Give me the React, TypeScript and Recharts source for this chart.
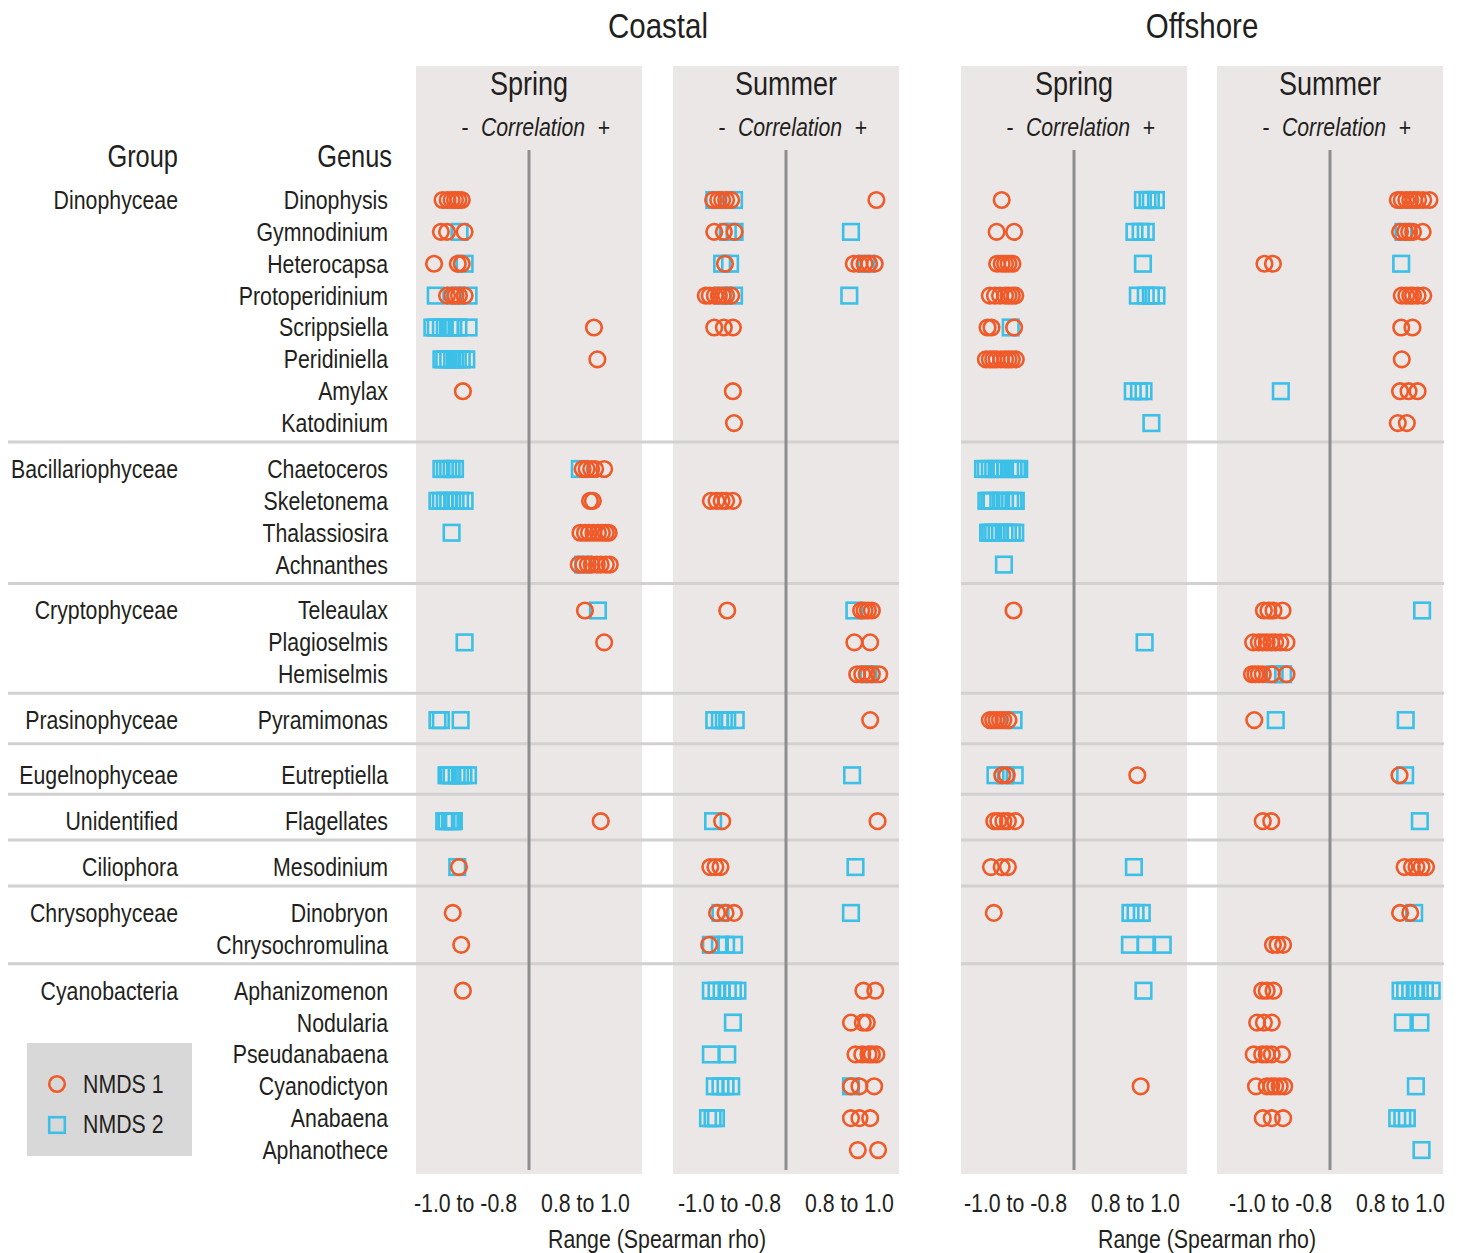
import React from "react";
import { ScatterChart, Scatter, XAxis, YAxis, ReferenceLine } from "recharts";

// ---------- categories ----------
const GROUPS = [
  "Dinophyceae",
  "Bacillariophyceae",
  "Cryptophyceae",
  "Prasinophyceae",
  "Eugelnophyceae",
  "Unidentified",
  "Ciliophora",
  "Chrysophyceae",
  "Cyanobacteria",
];
const GENERA_BY_GROUP = [
  ["Dinophysis", "Gymnodinium", "Heterocapsa", "Protoperidinium", "Scrippsiella", "Peridiniella", "Amylax", "Katodinium"],
  ["Chaetoceros", "Skeletonema", "Thalassiosira", "Achnanthes"],
  ["Teleaulax", "Plagioselmis", "Hemiselmis"],
  ["Pyramimonas"],
  ["Eutreptiella"],
  ["Flagellates"],
  ["Mesodinium"],
  ["Dinobryon", "Chrysochromulina"],
  ["Aphanizomenon", "Nodularia", "Pseudanabaena", "Cyanodictyon", "Anabaena", "Aphanothece"],
];
const REGIONS = ["Coastal", "Offshore"];
const SEASONS = ["Spring", "Summer"];
const TICK_LABELS = ["-1.0 to -0.8", "0.8 to 1.0"];
const SERIES_NAMES = ["NMDS 1", "NMDS 2"];
const AXIS_TITLE = "Range (Spearman rho)";

type Row = [string, number[]];

// ---------- series values (Spearman rho) ----------
const coastalSpringNMDS1: Row[] = [
  ["Dinophysis", [-0.953, -0.944, -0.937, -0.931, -0.925, -0.919]],
  ["Gymnodinium", [-0.956, -0.945, -0.914]],
  ["Heterocapsa", [-0.968, -0.926, -0.919]],
  ["Protoperidinium", [-0.945, -0.936, -0.93, -0.924, -0.914]],
  ["Scrippsiella", [0.915]],
  ["Peridiniella", [0.921]],
  ["Amylax", [-0.917]],
  ["Chaetoceros", [0.895, 0.902, 0.91, 0.917, 0.933]],
  ["Skeletonema", [0.908, 0.913]],
  ["Thalassiosira", [0.891, 0.899, 0.906, 0.914, 0.922, 0.929, 0.936, 0.941]],
  ["Achnanthes", [0.888, 0.896, 0.904, 0.911, 0.92, 0.927, 0.936, 0.943]],
  ["Teleaulax", [0.899]],
  ["Plagioselmis", [0.933]],
  ["Flagellates", [0.927]],
  ["Mesodinium", [-0.924]],
  ["Dinobryon", [-0.935]],
  ["Chrysochromulina", [-0.92]],
  ["Aphanizomenon", [-0.917]],
];
const coastalSpringNMDS2: Row[] = [
  ["Gymnodinium", [-0.923]],
  ["Heterocapsa", [-0.914]],
  ["Protoperidinium", [-0.965, -0.931, -0.907]],
  ["Scrippsiella", [-0.971, -0.965, -0.956, -0.949, -0.94, -0.934, -0.925, -0.907]],
  ["Peridiniella", [-0.955, -0.95, -0.943, -0.936, -0.931, -0.926, -0.919, -0.911]],
  ["Chaetoceros", [-0.955, -0.949, -0.943, -0.937, -0.931, 0.89]],
  ["Skeletonema", [-0.962, -0.956, -0.949, -0.943, -0.936, -0.93, -0.922, -0.914]],
  ["Thalassiosira", [-0.937]],
  ["Achnanthes", [0.896]],
  ["Teleaulax", [0.922]],
  ["Plagioselmis", [-0.914]],
  ["Pyramimonas", [-0.962, -0.956, -0.921]],
  ["Eutreptiella", [-0.946, -0.942, -0.937, -0.928, -0.922, -0.916, -0.908]],
  ["Flagellates", [-0.95, -0.946, -0.94, -0.936, -0.933]],
  ["Mesodinium", [-0.927]],
];
const coastalSummerNMDS1: Row[] = [
  ["Dinophysis", [-0.929, -0.92, -0.913, -0.906, -0.897, 0.96]],
  ["Gymnodinium", [-0.927, -0.91, -0.891]],
  ["Heterocapsa", [-0.908, 0.92, 0.93, 0.939, 0.947, 0.957]],
  ["Protoperidinium", [-0.942, -0.935, -0.926, -0.919, -0.912, -0.906, -0.897]],
  ["Scrippsiella", [-0.927, -0.91, -0.894]],
  ["Amylax", [-0.894]],
  ["Katodinium", [-0.892]],
  ["Skeletonema", [-0.933, -0.923, -0.914, -0.906, -0.894]],
  ["Teleaulax", [-0.904, 0.933, 0.939, 0.945, 0.952]],
  ["Plagioselmis", [0.921, 0.949]],
  ["Hemiselmis", [0.926, 0.935, 0.943, 0.952, 0.965]],
  ["Pyramimonas", [0.949]],
  ["Flagellates", [-0.913, 0.962]],
  ["Mesodinium", [-0.934, -0.925, -0.916]],
  ["Dinobryon", [-0.922, -0.907, -0.892]],
  ["Chrysochromulina", [-0.936]],
  ["Aphanizomenon", [0.937, 0.958]],
  ["Nodularia", [0.915, 0.936, 0.943]],
  ["Pseudanabaena", [0.923, 0.935, 0.946, 0.952, 0.96]],
  ["Cyanodictyon", [0.915, 0.93, 0.956]],
  ["Anabaena", [0.915, 0.93, 0.949]],
  ["Aphanothece", [0.927, 0.963]],
];
const coastalSummerNMDS2: Row[] = [
  ["Dinophysis", [-0.927, -0.892]],
  ["Gymnodinium", [-0.903, -0.891, 0.915]],
  ["Heterocapsa", [-0.913, -0.899, 0.942]],
  ["Protoperidinium", [-0.912, -0.892, 0.912]],
  ["Teleaulax", [0.921]],
  ["Hemiselmis", [0.946]],
  ["Pyramimonas", [-0.927, -0.917, -0.91, -0.904, -0.889]],
  ["Eutreptiella", [0.917]],
  ["Flagellates", [-0.929]],
  ["Mesodinium", [0.923]],
  ["Dinobryon", [-0.916, 0.915]],
  ["Chrysochromulina", [-0.933, -0.917, -0.906, -0.892]],
  ["Aphanizomenon", [-0.933, -0.923, -0.914, -0.903, -0.894, -0.886]],
  ["Nodularia", [-0.894]],
  ["Pseudanabaena", [-0.933, -0.904]],
  ["Cyanodictyon", [-0.926, -0.916, -0.907, -0.897, 0.915]],
  ["Anabaena", [-0.938, -0.93, -0.924]],
];
const offshoreSpringNMDS1: Row[] = [
  ["Dinophysis", [-0.928]],
  ["Gymnodinium", [-0.937, -0.906]],
  ["Heterocapsa", [-0.936, -0.928, -0.922, -0.916, -0.909]],
  ["Protoperidinium", [-0.949, -0.94, -0.931, -0.922, -0.916, -0.91, -0.904]],
  ["Scrippsiella", [-0.953, -0.946, -0.906]],
  ["Peridiniella", [-0.956, -0.949, -0.943, -0.937, -0.929, -0.922, -0.916, -0.91, -0.903]],
  ["Teleaulax", [-0.907]],
  ["Pyramimonas", [-0.949, -0.943, -0.937, -0.931, -0.925, -0.916]],
  ["Eutreptiella", [-0.927, -0.919, 0.912]],
  ["Flagellates", [-0.941, -0.934, -0.925, -0.917, -0.904]],
  ["Mesodinium", [-0.947, -0.928, -0.917]],
  ["Dinobryon", [-0.942]],
  ["Cyanodictyon", [0.918]],
];
const offshoreSpringNMDS2: Row[] = [
  ["Dinophysis", [0.922, 0.93, 0.936, 0.945]],
  ["Gymnodinium", [0.907, 0.918, 0.927]],
  ["Heterocapsa", [0.922]],
  ["Protoperidinium", [0.913, 0.927, 0.936, 0.946]],
  ["Scrippsiella", [-0.912]],
  ["Amylax", [0.904, 0.915, 0.923]],
  ["Katodinium", [0.937]],
  ["Chaetoceros", [-0.961, -0.956, -0.949, -0.943, -0.937, -0.931, -0.922, -0.913, -0.907, -0.901, -0.897]],
  ["Skeletonema", [-0.955, -0.95, -0.946, -0.934, -0.929, -0.922, -0.913, -0.907, -0.903]],
  ["Thalassiosira", [-0.952, -0.948, -0.943, -0.937, -0.931, -0.923, -0.917, -0.91, -0.904]],
  ["Achnanthes", [-0.924]],
  ["Plagioselmis", [0.925]],
  ["Pyramimonas", [-0.907]],
  ["Eutreptiella", [-0.939, -0.921, -0.905]],
  ["Mesodinium", [0.906]],
  ["Dinobryon", [0.9, 0.909, 0.92]],
  ["Chrysochromulina", [0.899, 0.927, 0.957]],
  ["Aphanizomenon", [0.923]],
];
const offshoreSummerNMDS1: Row[] = [
  ["Dinophysis", [0.92, 0.927, 0.935, 0.942, 0.949, 0.956, 0.965, 0.976]],
  ["Gymnodinium", [0.924, 0.933, 0.94, 0.947, 0.964]],
  ["Heterocapsa", [-0.916, -0.901]],
  ["Protoperidinium", [0.927, 0.935, 0.942, 0.947, 0.955, 0.965]],
  ["Scrippsiella", [0.926, 0.946]],
  ["Peridiniella", [0.927]],
  ["Amylax", [0.924, 0.939, 0.955]],
  ["Katodinium", [0.92, 0.936]],
  ["Teleaulax", [-0.917, -0.909, -0.9, -0.884]],
  ["Plagioselmis", [-0.936, -0.926, -0.919, -0.912, -0.904, -0.897, -0.888, -0.877]],
  ["Hemiselmis", [-0.938, -0.932, -0.926, -0.919, -0.903, -0.877]],
  ["Pyramimonas", [-0.934]],
  ["Eutreptiella", [0.923]],
  ["Flagellates", [-0.919, -0.904]],
  ["Mesodinium", [0.932, 0.945, 0.953, 0.962, 0.97]],
  ["Dinobryon", [0.924, 0.942]],
  ["Chrysochromulina", [-0.901, -0.893, -0.883]],
  ["Aphanizomenon", [-0.92, -0.912, -0.9]],
  ["Nodularia", [-0.929, -0.917, -0.903]],
  ["Pseudanabaena", [-0.935, -0.92, -0.912, -0.903, -0.885]],
  ["Cyanodictyon", [-0.931, -0.912, -0.904, -0.897, -0.889, -0.881]],
  ["Anabaena", [-0.919, -0.903, -0.883]],
];
const offshoreSummerNMDS2: Row[] = [
  ["Gymnodinium", [0.93]],
  ["Heterocapsa", [0.926]],
  ["Amylax", [-0.887]],
  ["Teleaulax", [0.963]],
  ["Hemiselmis", [-0.898, -0.883]],
  ["Pyramimonas", [-0.896, 0.934]],
  ["Eutreptiella", [0.933]],
  ["Flagellates", [0.959]],
  ["Dinobryon", [0.949]],
  ["Aphanizomenon", [0.925, 0.933, 0.942, 0.95, 0.959, 0.968, 0.98]],
  ["Nodularia", [0.929, 0.96]],
  ["Cyanodictyon", [0.952]],
  ["Anabaena", [0.919, 0.928, 0.936]],
  ["Aphanothece", [0.962]],
];

// ---------- layout / style ----------
const FONT = "'Liberation Sans',Arial,Helvetica,sans-serif";
const SX = 0.82; // horizontal condensing to mimic a narrow face
const TEXT = "#231f20";
const ORANGE = "#F05A28";
const BLUE = "#3CC0E8";
const PANEL_BG = "#ebe7e6";
const SEP = "#d2d0d0";
const DIVIDER = "#8e8e8e";
const CHART_TOP = 150;
const PLOT_H = 1020;
const AXIS_H = 50;
const PANEL_W = 226;
const SIDE = 14; // spare room either side of each plot for tick labels
const GROUP_GAP = [0, 1.44, 1.44, 1.44, 1.73, 1.44, 1.44, 1.44, 1.44];
const Y0 = -1.569;
const Y1 = 30.436;

const PANELS = [
  { region: 0, season: 0, left: 416, tickDx: -5, n1: coastalSpringNMDS1, n2: coastalSpringNMDS2 },
  { region: 0, season: 1, left: 673, tickDx: 2, n1: coastalSummerNMDS1, n2: coastalSummerNMDS2 },
  { region: 1, season: 0, left: 961, tickDx: 0, n1: offshoreSpringNMDS1, n2: offshoreSpringNMDS2 },
  { region: 1, season: 1, left: 1217, tickDx: 9, n1: offshoreSummerNMDS1, n2: offshoreSummerNMDS2 },
];

// slot (row position) for each genus
const SLOT: Record<string, number> = {};
const GROUP_FIRST_SLOT: number[] = [];
const GROUP_LAST_SLOT: number[] = [];
(() => {
  let s = 0;
  GENERA_BY_GROUP.forEach((gens, gi) => {
    if (gi > 0) s += GROUP_GAP[gi] - 1;
    gens.forEach((g, i) => {
      if (gi > 0 || i > 0) s += 1;
      SLOT[g] = s;
      if (i === 0) GROUP_FIRST_SLOT[gi] = s;
      GROUP_LAST_SLOT[gi] = s;
    });
  });
})();

const yPix = (slot: number) => CHART_TOP + ((slot - Y0) / (Y1 - Y0)) * PLOT_H;
// broken axis: -1.0..-0.8 -> 0..0.2 ; 0.8..1.0 -> 0.2..0.4
const toPlot = (rho: number) => (rho < 0 ? rho + 1 : rho - 0.6);

const build = (rows: Row[]) =>
  rows.flatMap(([genus, vals]) => vals.map((v) => ({ genus, rho: v, x: toPlot(v), y: SLOT[genus] })));

const T = ({
  x,
  y,
  size = 26,
  anchor = "start",
  italic = false,
  children,
}: {
  x: number;
  y: number;
  size?: number;
  anchor?: "start" | "middle" | "end";
  italic?: boolean;
  children: React.ReactNode;
}) => (
  <text
    transform={`translate(${x},${y}) scale(${SX},1)`}
    textAnchor={anchor}
    fontFamily={FONT}
    fontSize={size}
    fontStyle={italic ? "italic" : "normal"}
    fill={TEXT}
  >
    {children}
  </text>
);

const CircleShape = (p: any) => (
  <circle cx={p.cx} cy={p.cy} r={7.8} fill="none" stroke={ORANGE} strokeWidth={2.6} />
);
const SquareShape = (p: any) => (
  <rect x={p.cx - 7.8} y={p.cy - 7.8} width={15.6} height={15.6} fill="none" stroke={BLUE} strokeWidth={2.6} />
);

const makeTick = (dx: number) => (p: any) => {
  const idx = p.index ?? 0;
  return (
    <T x={p.x + dx + (idx === 1 ? 5 : -2)} y={p.y + 34} anchor="middle">
      {TICK_LABELS[idx]}
    </T>
  );
};

const Panel = ({ panel }: { panel: (typeof PANELS)[number] }) => {
  const d1 = build(panel.n1);
  const d2 = build(panel.n2);
  const TickC = makeTick(panel.tickDx);
  return (
    <div style={{ position: "absolute", left: panel.left - SIDE, top: CHART_TOP }}>
      <ScatterChart
        width={PANEL_W + 2 * SIDE}
        height={PLOT_H + AXIS_H}
        margin={{ top: 0, right: SIDE, bottom: 0, left: SIDE }}
        style={{ overflow: "visible" }}
      >
        <XAxis
          type="number"
          dataKey="x"
          domain={[0, 0.4]}
          ticks={[0.1, 0.3]}
          interval={0}
          height={AXIS_H}
          axisLine={false}
          tickLine={false}
          tick={<TickC />}
          allowDataOverflow
        />
        <YAxis type="number" dataKey="y" domain={[Y0, Y1]} reversed hide width={0} allowDataOverflow />
        <ReferenceLine x={0.2} stroke={DIVIDER} strokeWidth={3} />
        <Scatter name={SERIES_NAMES[1]} data={d2} shape={SquareShape} isAnimationActive={false} />
        <Scatter name={SERIES_NAMES[0]} data={d1} shape={CircleShape} isAnimationActive={false} />
      </ScatterChart>
    </div>
  );
};

export default function App() {
  const divX = (p: (typeof PANELS)[number]) => p.left + PANEL_W / 2;
  const sepYs = GROUP_FIRST_SLOT.slice(1).map((s, i) => yPix((GROUP_LAST_SLOT[i] + s) / 2) - 4);
  return (
    <div
      style={{ position: "absolute", left: 0, top: 0, width: 1461, height: 1253, background: "#fff", overflow: "hidden" }}
    >
      <svg width={1461} height={1253} style={{ position: "absolute", left: 0, top: 0 }}>
        {PANELS.map((p, i) => (
          <rect key={i} x={p.left} y={66} width={PANEL_W} height={1108} fill={PANEL_BG} />
        ))}
        {sepYs.map((y, i) => (
          <g key={i}>
            <line x1={8} x2={899} y1={y} y2={y} stroke={SEP} strokeWidth={3} />
            <line x1={961} x2={1444} y1={y} y2={y} stroke={SEP} strokeWidth={3} />
          </g>
        ))}
        {REGIONS.map((r, i) => (
          <T key={r} x={i === 0 ? 658 : 1202} y={38} size={36} anchor="middle">
            {r}
          </T>
        ))}
        {PANELS.map((p, i) => (
          <g key={i}>
            <T x={divX(p)} y={95} size={33} anchor="middle">
              {SEASONS[p.season]}
            </T>
            <T x={divX(p) - 64} y={136} anchor="middle">
              -
            </T>
            <T x={divX(p) + 4} y={136} anchor="middle" italic>
              Correlation
            </T>
            <T x={divX(p) + 75} y={136} anchor="middle">
              +
            </T>
          </g>
        ))}
        <T x={178} y={167} size={31} anchor="end">
          Group
        </T>
        <T x={392} y={167} size={31} anchor="end">
          Genus
        </T>
        {GROUPS.map((g, gi) => (
          <T key={g} x={178} y={yPix(GROUP_FIRST_SLOT[gi]) + 9} anchor="end">
            {g}
          </T>
        ))}
        {GENERA_BY_GROUP.flat().map((g) => (
          <T key={g} x={388} y={yPix(SLOT[g]) + 9} anchor="end">
            {g}
          </T>
        ))}
        <T x={657} y={1248} anchor="middle">
          {AXIS_TITLE}
        </T>
        <T x={1207} y={1248} anchor="middle">
          {AXIS_TITLE}
        </T>
        {/* legend */}
        <rect x={27} y={1043} width={165} height={113} fill="#d9d8d8" />
        <circle cx={57} cy={1084} r={7.8} fill="none" stroke={ORANGE} strokeWidth={2.6} />
        <T x={83} y={1093}>
          {SERIES_NAMES[0]}
        </T>
        <rect x={49.2} y={1117.2} width={15.6} height={15.6} fill="none" stroke={BLUE} strokeWidth={2.6} />
        <T x={83} y={1133}>
          {SERIES_NAMES[1]}
        </T>
      </svg>
      {PANELS.map((p, i) => (
        <Panel key={i} panel={p} />
      ))}
    </div>
  );
}
